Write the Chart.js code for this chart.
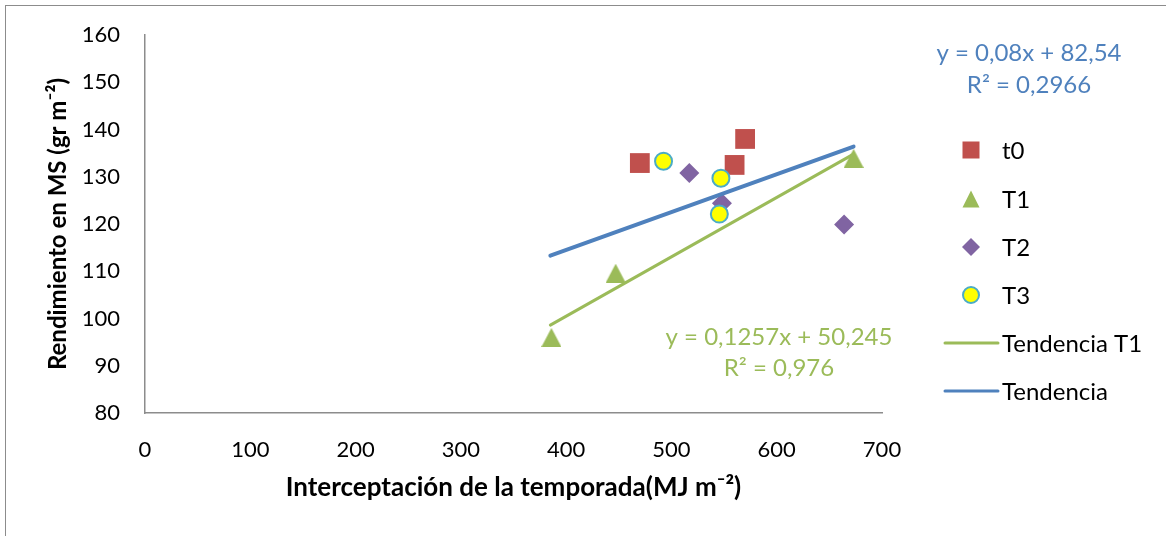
<!DOCTYPE html>
<html>
<head>
<meta charset="utf-8">
<script src="https://cdn.jsdelivr.net/npm/chart.js@4"></script>
<style>
  html, body { margin: 0; padding: 0; background: #fff; }
  #wrap { width: 1166px; height: 536px; }
</style>
</head>
<body>
<div id="wrap"><canvas id="chart" width="1166" height="536"></canvas></div>
<script>
// valores
const t0X = [470, 560, 570];
const t0Y = [132.9, 132.5, 138];
const t1X = [386, 447, 673];
const t1Y = [96, 109.6, 133.9];
const t2X = [517, 548, 664];
const t2Y = [130.8, 124.4, 119.9];
const t3X = [492.5, 547, 545.5];
const t3Y = [133.3, 129.7, 122.1];
const trendX = [385, 673];
const trendT1Y = [98.6, 134.8];
const trendAllY = [113.3, 136.4];

const xTicks = [0, 100, 200, 300, 400, 500, 600, 700];
const yTicks = [80, 90, 100, 110, 120, 130, 140, 150, 160];

const seriesNames = ['t0', 'T1', 'T2', 'T3', 'Tendencia T1', 'Tendencia'];
const eqAll = ['y = 0,08x + 82,54', 'R² = 0,2966'];
const eqT1 = ['y = 0,1257x + 50,245', 'R² = 0,976'];

const FONT = 'Lato, "Open Sans", sans-serif';

function pts(xs, ys) {
  return xs.map((x, i) => ({ x: x, y: ys[i] }));
}

// triangulo centrado en su caja, como en Excel
function triangleImg(w, h, color) {
  const c = document.createElement('canvas');
  c.width = w;
  c.height = h;
  const g = c.getContext('2d');
  g.fillStyle = color;
  g.beginPath();
  g.moveTo(w / 2, 0);
  g.lineTo(w, h);
  g.lineTo(0, h);
  g.closePath();
  g.fill();
  return c;
}

// borde exterior, ecuaciones y leyenda
const extras = {
  id: 'extras',
  beforeDraw(chart) {
    const ctx = chart.ctx;
    ctx.save();
    ctx.strokeStyle = '#8c8c8c';
    ctx.lineWidth = 1;
    ctx.strokeRect(5.5, 5.5, 1300, 700);
    ctx.restore();
  },
  afterDraw(chart) {
    const ctx = chart.ctx;
    ctx.save();
    ctx.font = '24px ' + FONT;
    ctx.textAlign = 'center';
    ctx.textBaseline = 'middle';
    ctx.fillStyle = '#4F81BD';
    ctx.fillText(eqAll[0], 1029, 53);
    ctx.fillText(eqAll[1], 1029, 85);
    ctx.fillStyle = '#9BBB59';
    ctx.fillText(eqT1[0], 779, 337);
    ctx.fillText(eqT1[1], 779, 368);

    // leyenda
    const rows = [150, 199, 247, 295, 343, 391];
    const mx = 971;
    ctx.textAlign = 'left';
    rows.forEach((y, i) => {
      ctx.fillStyle = '#000';
      ctx.fillText(seriesNames[i], 1002, y + 1);
    });
    // t0
    ctx.fillStyle = '#C0504D';
    ctx.fillRect(mx - 8.5, rows[0] - 8.5, 17, 17);
    // T1
    ctx.fillStyle = '#9BBB59';
    ctx.beginPath();
    ctx.moveTo(mx, rows[1] - 8.5);
    ctx.lineTo(mx + 8.5, rows[1] + 8.5);
    ctx.lineTo(mx - 8.5, rows[1] + 8.5);
    ctx.closePath();
    ctx.fill();
    // T2
    ctx.fillStyle = '#8064A2';
    ctx.beginPath();
    ctx.moveTo(mx, rows[2] - 9);
    ctx.lineTo(mx + 9, rows[2]);
    ctx.lineTo(mx, rows[2] + 9);
    ctx.lineTo(mx - 9, rows[2]);
    ctx.closePath();
    ctx.fill();
    // T3
    ctx.fillStyle = '#FFFF00';
    ctx.strokeStyle = '#4BACC6';
    ctx.lineWidth = 2;
    ctx.beginPath();
    ctx.arc(mx, rows[3], 8, 0, Math.PI * 2);
    ctx.fill();
    ctx.stroke();
    // tendencias
    ctx.lineCap = 'round';
    ctx.lineWidth = 3;
    ctx.strokeStyle = '#9BBB59';
    ctx.beginPath();
    ctx.moveTo(945, rows[4]);
    ctx.lineTo(998, rows[4]);
    ctx.stroke();
    ctx.strokeStyle = '#4F81BD';
    ctx.beginPath();
    ctx.moveTo(945, rows[5]);
    ctx.lineTo(998, rows[5]);
    ctx.stroke();
    ctx.restore();
  }
};

new Chart(document.getElementById('chart').getContext('2d'), {
  type: 'scatter',
  data: {
    datasets: [
      {
        label: seriesNames[0],
        data: pts(t0X, t0Y),
        pointStyle: 'rect',
        pointRadius: 14,
        backgroundColor: '#C0504D',
        borderColor: '#C0504D',
        borderWidth: 0,
        order: 4
      },
      {
        label: seriesNames[1],
        data: pts(t1X, t1Y),
        pointStyle: triangleImg(20, 19, '#9BBB59'),
        pointRadius: 10,
        backgroundColor: '#9BBB59',
        borderColor: '#9BBB59',
        borderWidth: 0,
        order: 3
      },
      {
        label: seriesNames[2],
        data: pts(t2X, t2Y),
        pointStyle: 'rectRot',
        pointRadius: 10,
        backgroundColor: '#8064A2',
        borderColor: '#8064A2',
        borderWidth: 0,
        order: 2
      },
      {
        label: seriesNames[3],
        data: pts(t3X, t3Y),
        pointStyle: 'circle',
        pointRadius: 8.5,
        backgroundColor: '#FFFF00',
        borderColor: '#4BACC6',
        borderWidth: 2,
        order: 1
      },
      {
        label: seriesNames[4],
        data: pts(trendX, trendT1Y),
        showLine: true,
        pointRadius: 0,
        borderColor: '#9BBB59',
        borderWidth: 3,
        borderCapStyle: 'round',
        order: 0
      },
      {
        label: seriesNames[5],
        data: pts(trendX, trendAllY),
        showLine: true,
        pointRadius: 0,
        borderColor: '#4F81BD',
        borderWidth: 4,
        borderCapStyle: 'round',
        order: 0
      }
    ]
  },
  options: {
    responsive: false,
    animation: false,
    layout: { padding: { left: 0, top: 35, right: 284, bottom: 0 } },
    plugins: {
      legend: { display: false },
      tooltip: { enabled: false }
    },
    scales: {
      x: {
        type: 'linear',
        min: 0,
        max: 700,
        afterBuildTicks(scale) { scale.ticks = xTicks.map(v => ({ value: v })); },
        afterFit(scale) { scale.height = 123; scale.paddingLeft = 0; scale.paddingRight = 0; },
        grid: { display: false, drawTicks: false },
        border: { display: true, color: '#8c8c8c', width: 1.5 },
        ticks: { color: '#000', padding: 24, font: { family: FONT, size: 22 } },
        title: {
          display: true,
          text: 'Interceptación de la temporada(MJ m⁻²)',
          color: '#000',
          padding: { top: 0, bottom: 33 },
          font: { family: FONT, size: 26, weight: 'bold' }
        }
      },
      y: {
        type: 'linear',
        min: 80,
        max: 160,
        afterBuildTicks(scale) { scale.ticks = yTicks.map(v => ({ value: v })); },
        afterFit(scale) { scale.width = 145; scale.paddingTop = 0; scale.paddingBottom = 0; },
        grid: { display: false, drawTicks: false },
        border: { display: true, color: '#8c8c8c', width: 1.5 },
        ticks: { color: '#000', padding: 25, font: { family: FONT, size: 22 } },
        title: {
          display: true,
          text: 'Rendimiento en MS (gr m⁻²)',
          color: '#000',
          padding: { top: 44, bottom: 0 },
          font: { family: FONT, size: 24, weight: 'bold' }
        }
      }
    }
  },
  plugins: [extras]
});
</script>
</body>
</html>
